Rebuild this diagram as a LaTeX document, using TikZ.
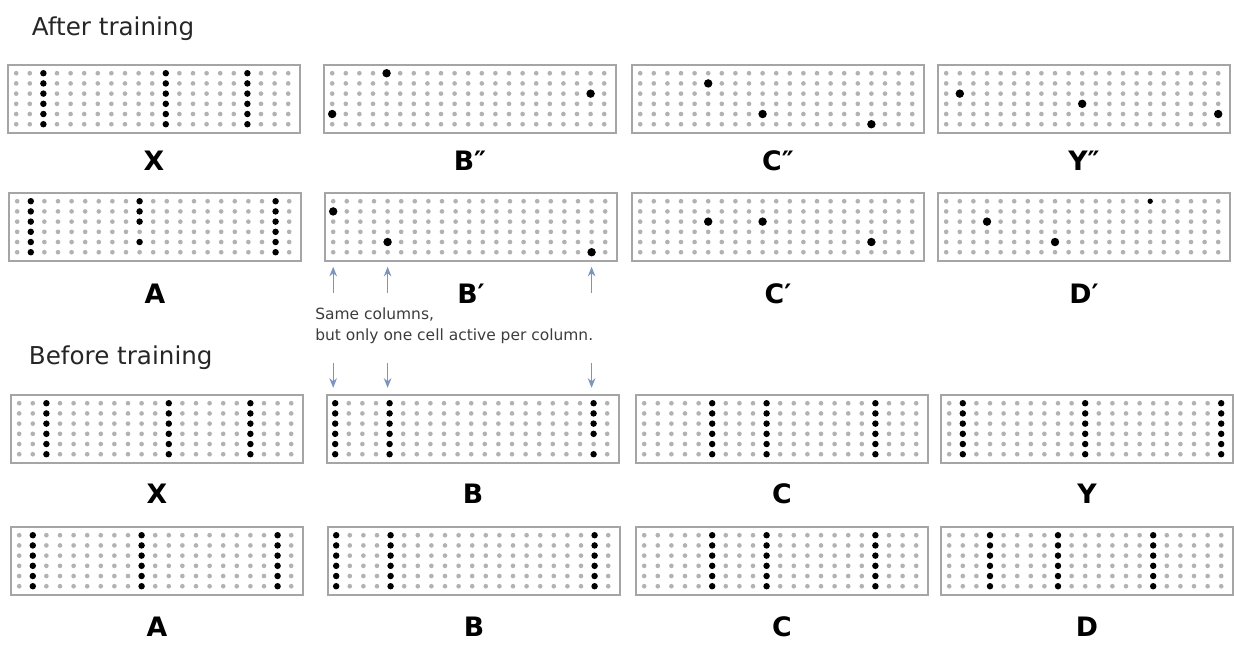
\documentclass[tikz,border=0pt]{standalone}
\usepackage{fontspec}
\setmainfont{DejaVu Sans}
\usepackage{tikz}
\usetikzlibrary{positioning,arrows.meta,calc}
\definecolor{boxrule}{RGB}{165,165,165}
\definecolor{offgray}{RGB}{178,178,178}
\definecolor{arrowblue}{RGB}{122,148,196}
\definecolor{notegray}{RGB}{60,60,60}
\tikzset{
  panel/.style={rectangle,draw=boxrule,line width=1.1pt,minimum width=7.3cm,minimum height=1.7cm,inner sep=0pt,fill=white},
  offcell/.style={fill=offgray},
  oncell/.style={fill=black},
  sdrlabel/.style={anchor=base,font=\fontsize{19}{22}\selectfont\bfseries},
  heading/.style={anchor=base west,font=\fontsize{17.5}{20}\selectfont,text=black!85},
  note/.style={anchor=north west,align=left,font=\fontsize{11}{15.6}\selectfont,text=notegray,inner sep=0pt},
  colarrow/.style={-{Stealth[length=2.4mm,width=1.9mm]},draw=arrowblue,line width=0.8pt}
}
% grey grid of 21 columns x 6 cells
\newcommand{\sdrgrid}[1]{%
  \foreach \c in {0,...,20}{\foreach \r in {0,...,5}{%
    \fill[offcell] ($(#1.north west)+(9+13.6*\c,9+10.2*\r)$) circle (1.65pt);}}}
% whole columns active
\newcommand{\sdrcols}[2]{%
  \foreach \c in {#2}{\foreach \r in {0,...,5}{%
    \fill[oncell] ($(#1.north west)+(9+13.6*\c,9+10.2*\r)$) circle (2.3pt);}}}
% single cells active (col/row)
\newcommand{\sdrcells}[3][3pt]{%
  \foreach \c/\r in {#3}{%
    \fill[oncell] ($(#2.north west)+(9+13.6*\c,9+10.2*\r)$) circle (#1);}}

\begin{document}
\begin{tikzpicture}[x=0.025cm,y=-0.025cm]
  \useasboundingbox (0,0) rectangle (1234,646);

  \node[heading] (after) at (27,35) {After training};
  \node[heading] (before) at (24,364) {Before training};

  % after training
  \node[panel] (xafter) at (154,99) {};
  \node[panel] (bdd) at (470,99) {};
  \node[panel] (cdd) at (778,99) {};
  \node[panel] (ydd) at (1084,99) {};
  \node[panel] (aafter) at (155,227) {};
  \node[panel] (bd) at (471,227) {};
  \node[panel] (cd) at (778,227) {};
  \node[panel] (dd) at (1084,227) {};

  % before training
  \node[panel] (xbefore) at (157,429) {};
  \node[panel] (bbefore) at (473,429) {};
  \node[panel] (cbefore) at (782,429) {};
  \node[panel] (ybefore) at (1087,429) {};
  \node[panel] (abefore) at (157,561) {};
  \node[panel] (bplain) at (474,561) {};
  \node[panel] (cplain) at (782,561) {};
  \node[panel] (dplain) at (1087,561) {};

  \foreach \p in {xafter,bdd,cdd,ydd,aafter,bd,cd,dd,xbefore,bbefore,cbefore,ybefore,abefore,bplain,cplain,dplain}
    \sdrgrid{\p};

  \sdrcols{xafter}{2,11,17}
  \sdrcells{bdd}{4/0,0/4,19/2}
  \sdrcells{cdd}{5/1,9/4,17/5}
  \sdrcells{ydd}{1/2,10/3,20/4}
  \sdrcols{aafter}{1,19}
  \sdrcells[2.3pt]{aafter}{9/0,9/1,9/2,9/4}
  \sdrcells{bd}{0/1,4/4,19/5}
  \sdrcells{cd}{5/2,9/2,17/4}
  \sdrcells{dd}{3/2,8/4}
  \sdrcells[1.9pt]{dd}{15/0}

  \sdrcols{xbefore}{2,11,17}
  \sdrcols{bbefore}{0,4}
  \sdrcells[2.3pt]{bbefore}{19/0,19/1,19/2,19/3,19/5}
  \sdrcols{cbefore}{5,9,17}
  \sdrcols{ybefore}{1,10,20}
  \sdrcols{abefore}{1,9,19}
  \sdrcols{bplain}{0,4,19}
  \sdrcols{cplain}{5,9,17}
  \sdrcols{dplain}{3,8,15}

  \node[sdrlabel] (lx1) at (154,170) {X};
  \node[sdrlabel] (lb2) at (470,170) {B″};
  \node[sdrlabel] (lc2) at (778,170) {C″};
  \node[sdrlabel] (ly2) at (1084,170) {Y″};
  \node[sdrlabel] (la1) at (155,303) {A};
  \node[sdrlabel] (lb1) at (471,303) {B′};
  \node[sdrlabel] (lc1) at (778,303) {C′};
  \node[sdrlabel] (ld1) at (1084,303) {D′};
  \node[sdrlabel] (lx0) at (157,503) {X};
  \node[sdrlabel] (lb0) at (473,503) {B};
  \node[sdrlabel] (lc0) at (782,503) {C};
  \node[sdrlabel] (ly0) at (1087,503) {Y};
  \node[sdrlabel] (la0) at (157,636) {A};
  \node[sdrlabel] (lbb) at (474,636) {B};
  \node[sdrlabel] (lcc) at (782,636) {C};
  \node[sdrlabel] (ldd) at (1087,636) {D};

  \node[note] (samecols) at (315,307) {Same columns,\\but only one cell active per column.};

  % arrows to the shared columns
  \foreach \c [count=\i] in {0,4,19}{
    \coordinate (upfoot\i) at ($(bd.south west)+(9+13.6*\c,31)$);
    \coordinate (uptip\i) at ($(bd.south west)+(9+13.6*\c,5)$);
    \coordinate (downfoot\i) at ($(bd.south west)+(9+13.6*\c,101)$);
    \coordinate (downtip\i) at ($(bd.south west)+(9+13.6*\c,126)$);
    \draw[colarrow] (upfoot\i) -- (uptip\i);
    \draw[colarrow] (downfoot\i) -- (downtip\i);
  }
\end{tikzpicture}
\end{document}
